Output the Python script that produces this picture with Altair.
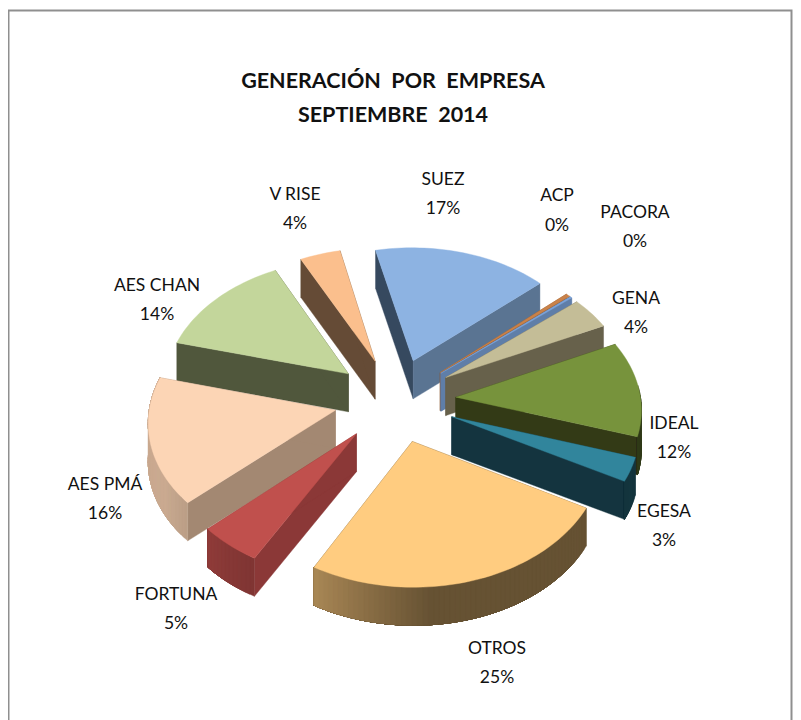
import math
import altair as alt

# ---- data ----
NAMES = ["SUEZ", "ACP", "PACORA", "GENA", "IDEAL", "EGESA", "OTROS", "FORTUNA", "AES PMÁ", "AES CHAN", "V RISE"]
SHARES = [16.8, 0.4, 0.2, 4.0, 12.0, 3.0, 25.2, 5.0, 16.0, 13.5, 3.9]
PERCENT_LABELS = ["17%", "0%", "0%", "4%", "12%", "3%", "25%", "5%", "16%", "14%", "4%"]
TOP_COLORS = ["#8DB3E2", "#C9824A", "#7CA3DA", "#C4BD97", "#77933C", "#31859C", "#FFCC80", "#C0504D", "#FCD5B5", "#C3D69B", "#FBBF8D"]
START_FACE = ["#36495F", "#8A5A33", "#5F7EA8", "#67614B", "#333A16", "#14343F", "#665233", "#8B3837", "#A38872", "#50573C", "#654B36"]
END_FACE = ["#5A7492", "#8A5A33", "#5F7EA8", "#67614B", "#333A16", "#14343F", "#665233", "#8B3837", "#A38872", "#50573C", "#654B36"]
DRAW_ORDER = ["V RISE", "SUEZ", "ACP", "PACORA", "GENA", "IDEAL", "EGESA", "AES CHAN", "AES PMÁ", "FORTUNA", "OTROS"]
TITLE_LINES = ["GENERACIÓN \u00a0POR \u00a0EMPRESA", "SEPTIEMBRE \u00a02014"]

# ---- layout of the tilted pie (page pixels) ----
CX, CY, RADIUS, EXPLODE, TILT, PERSP, DEPTH, START = 395, 400, 185, 61, 0.69, 0.00042, 38, -12.5
LABEL_POS = {
    "SUEZ": (443, 180, 29), "ACP": (557, 196, 30), "PACORA": (635, 213, 29),
    "GENA": (636, 299, 29), "IDEAL": (674, 424, 29), "EGESA": (664, 512, 29),
    "OTROS": (497, 649, 29), "FORTUNA": (176, 595, 29), "AES PMÁ": (105, 485, 29),
    "AES CHAN": (157, 286, 29), "V RISE": (295, 195, 29),
}
TITLE_POS = [(393, 82), (393, 116)]


def project(x, y):
    w = 1 / (1 + PERSP * y)
    return (CX + x * w, CY - TILT * y * w)


def hex_scale(col, f):
    r, g, b = (int(col[i:i + 2], 16) for i in (1, 3, 5))
    return "#%02x%02x%02x" % (round(r * f), round(g * f), round(b * f))


def wall_shade(a):
    pts = [(0, .4), (175, .4), (209, .66), (240, .8), (360, .8)]
    a = a % 360
    for (a0, s0), (a1, s1) in zip(pts, pts[1:]):
        if a0 <= a <= a1:
            return s0 + (s1 - s0) * (a - a0) / (a1 - a0)
    return .4


def poly(points, color):
    ring = [list(p) for p in points] + [list(points[0])]
    return {"type": "Feature", "properties": {"color": color},
            "geometry": {"type": "Polygon", "coordinates": [ring]}}


total = sum(SHARES)
spans = {}
acc = START
for n, s in zip(NAMES, SHARES):
    spans[n] = (acc, acc + s / total * 360)
    acc += s / total * 360

features = []
for name in DRAW_ORDER:
    i = NAMES.index(name)
    a0, a1 = spans[name]
    mid = math.radians((a0 + a1) / 2)
    ox, oy = EXPLODE * math.sin(mid), EXPLODE * math.cos(mid)

    def at(a):
        r = math.radians(a)
        return project(ox + RADIUS * math.sin(r), oy + RADIUS * math.cos(r))

    apex = project(ox, oy)
    down = lambda p: (p[0], p[1] + DEPTH)
    n_steps = max(1, int((a1 - a0) / 1.5))
    angles = [a0 + (a1 - a0) * k / n_steps for k in range(n_steps + 1)]
    arc = [at(a) for a in angles]
    # cut faces
    features.append(poly([apex, arc[0], down(arc[0]), down(apex)], START_FACE[i]))
    features.append(poly([apex, arc[-1], down(arc[-1]), down(apex)], END_FACE[i]))
    # outer wall: overlapping shaded strips, each painted up to the end of the arc
    for k in range(n_steps):
        am = (angles[k] + angles[k + 1]) / 2 % 360
        if 85 <= am <= 275:
            rest = arc[k:]
            features.append(poly(rest + [down(p) for p in reversed(rest)],
                                 hex_scale(TOP_COLORS[i], wall_shade(am))))
    # top
    features.append(poly([apex] + arc, TOP_COLORS[i]))

shapes = {"type": "FeatureCollection", "features": features}

BORDER_BOTTOM = 720
border = {"type": "FeatureCollection", "features": [
    {"type": "Feature", "properties": {},
     "geometry": {"type": "LineString",
                  "coordinates": [[8.5, BORDER_BOTTOM], [8.5, 10.5], [791.5, 10.5], [791.5, BORDER_BOTTOM]]}}]}

label_rows = []
for n, p in zip(NAMES, PERCENT_LABELS):
    x, y, gap = LABEL_POS[n]
    label_rows.append({"t": n, "lon": x, "lat": y})
    label_rows.append({"t": p, "lon": x, "lat": y + gap})
title_rows = [{"t": t, "lon": x, "lat": y} for t, (x, y) in zip(TITLE_LINES, TITLE_POS)]

PROJ = dict(type="identity", scale=1, translate=[-8, -8])
geo_fmt = alt.DataFormat(property="features", type="json")

border_layer = alt.Chart(alt.Data(values=border, format=geo_fmt)).mark_geoshape(
    filled=False, stroke="#8f8f8f", strokeWidth=2).project(**PROJ)

pie_layer = alt.Chart(alt.Data(values=shapes, format=geo_fmt)).mark_geoshape(strokeWidth=0.4).encode(
    fill=alt.Fill("properties.color:N", scale=None, legend=None),
    stroke=alt.Stroke("properties.color:N", scale=None, legend=None),
).project(**PROJ)

label_layer = alt.Chart(alt.Data(values=label_rows)).mark_text(
    font="Lato", fontSize=17.5, color="#111111", align="center", baseline="middle").encode(
    longitude="lon:Q", latitude="lat:Q", text="t:N").project(**PROJ)

title_layer = alt.Chart(alt.Data(values=title_rows)).mark_text(
    font="Lato", fontSize=21.5, fontWeight="bold", color="#111111", align="center", baseline="middle").encode(
    longitude="lon:Q", latitude="lat:Q", text="t:N").project(**PROJ)

chart = alt.layer(border_layer, pie_layer, label_layer, title_layer).properties(
    width=785, height=712, padding=0, background="white",
    autosize=alt.AutoSizeParams(type="none"),
).configure_view(stroke=None)

chart.save("out.html", embed_options={"renderer": "svg", "actions": False})
